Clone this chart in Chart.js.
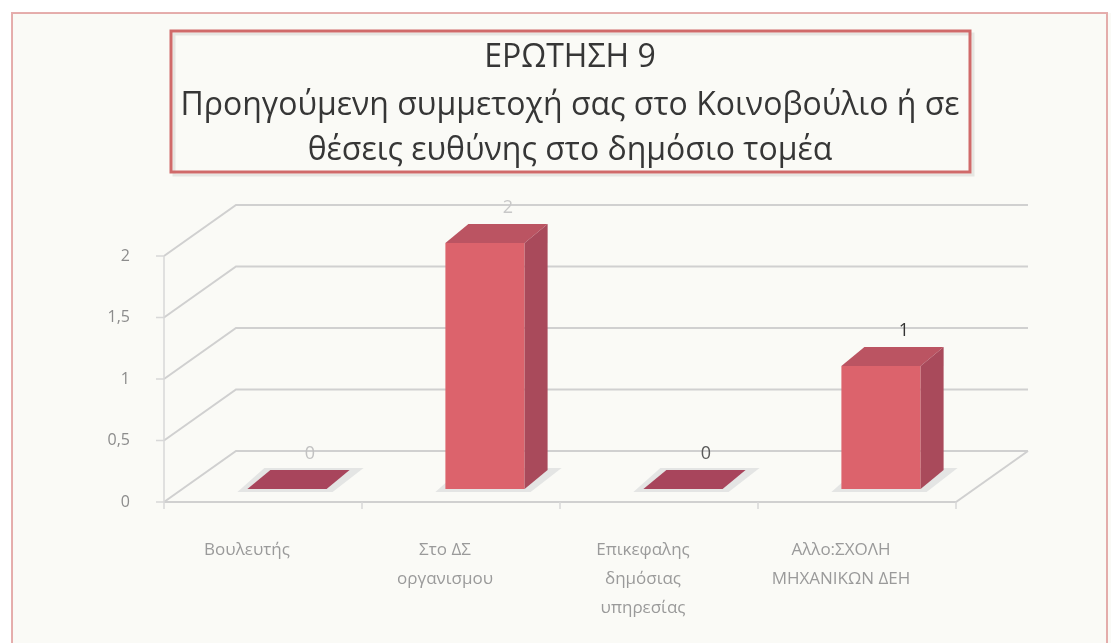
<!DOCTYPE html>
<html>
<head>
<meta charset="utf-8">
<script src="https://cdn.jsdelivr.net/npm/chart.js@4"></script>
<style>
  html, body { margin: 0; padding: 0; background: #fff; }
</style>
</head>
<body>
<canvas id="myChart" width="1111" height="643"></canvas>
<script>
const titleLines = ['ΕΡΩΤΗΣΗ 9', 'Προηγούμενη συμμετοχή σας στο Κοινοβούλιο ή σε', 'θέσεις ευθύνης στο δημόσιο τομέα'];
const categories = [['Βουλευτής'], ['Στο ΔΣ', 'οργανισμου'], ['Επικεφαλης', 'δημόσιας', 'υπηρεσίας'], ['Αλλο:ΣΧΟΛΗ', 'ΜΗΧΑΝΙΚΩΝ ΔΕΗ']];
const values = [0, 2, 0, 1];
const yTickLabels = ['0', '0,5', '1', '1,5', '2'];
const valueLabelColors = ['#c2c2c2', '#c8c8c8', '#5a5a5a', '#333333'];

// 3d offsets relative to the bar plane
const FRONT = { dx: -24, dy: 13 };
const BACK = { dx: 48, dy: -38 };
const DEPTH = { dx: 23, dy: -19 };

const scene = {
  id: 'scene',
  beforeDraw(chart) {
    const { ctx, chartArea: a, scales: { y } } = chart;
    ctx.save();
    ctx.fillStyle = '#ffffff';
    ctx.fillRect(0, 0, chart.width, chart.height);
    ctx.fillStyle = '#fafaf6';
    ctx.fillRect(12, 13, chart.width - 12, chart.height - 13);
    ctx.strokeStyle = 'rgba(214,120,120,0.6)';
    ctx.lineWidth = 2;
    ctx.strokeRect(12, 13, chart.width - 16, chart.height - 6);

    // title box
    ctx.strokeStyle = 'rgba(0,0,0,0.08)';
    ctx.lineWidth = 3;
    ctx.strokeRect(174, 34, 799, 141);
    ctx.strokeStyle = '#d06a6a';
    ctx.strokeRect(171, 31, 799, 141);
    ctx.fillStyle = '#363636';
    ctx.font = '32px "Open Sans"';
    ctx.textAlign = 'center';
    ctx.textBaseline = 'middle';
    const ys = [58, 106, 151];
    titleLines.forEach((t, i) => ctx.fillText(t, 570, ys[i]));

    // walls
    ctx.strokeStyle = '#d0d0d0';
    ctx.lineWidth = 2;
    y.ticks.forEach(t => {
      const py = y.getPixelForValue(t.value);
      ctx.beginPath();
      ctx.moveTo(a.left + FRONT.dx, py + FRONT.dy);
      ctx.lineTo(a.left + BACK.dx, py + BACK.dy);
      ctx.lineTo(a.right + BACK.dx, py + BACK.dy);
      ctx.stroke();
    });
    const p0 = y.getPixelForValue(0);
    const p2 = y.getPixelForValue(2);
    ctx.beginPath();
    ctx.moveTo(a.left + FRONT.dx, p0 + FRONT.dy);
    ctx.lineTo(a.right + FRONT.dx, p0 + FRONT.dy);
    ctx.lineTo(a.right + BACK.dx, p0 + BACK.dy);
    ctx.stroke();

    // front axis line and ticks
    ctx.strokeStyle = '#d8d8d8';
    ctx.lineWidth = 1.5;
    ctx.beginPath();
    ctx.moveTo(a.left + FRONT.dx, p2 + FRONT.dy);
    ctx.lineTo(a.left + FRONT.dx, p0 + FRONT.dy);
    y.ticks.forEach(t => {
      const py = y.getPixelForValue(t.value) + FRONT.dy;
      ctx.moveTo(a.left + FRONT.dx - 8, py);
      ctx.lineTo(a.left + FRONT.dx, py);
    });
    const n = categories.length;
    for (let i = 0; i <= n; i++) {
      const px = a.left + i * a.width / n + FRONT.dx;
      ctx.moveTo(px, p0 + FRONT.dy);
      ctx.lineTo(px, p0 + FRONT.dy + 7);
    }
    ctx.stroke();

    // floor shadows
    const meta = chart.getDatasetMeta(0);
    ctx.fillStyle = 'rgba(185,190,196,0.35)';
    meta.data.forEach(bar => {
      const l = bar.x - bar.width / 2, r = bar.x + bar.width / 2, b = bar.base;
      ctx.beginPath();
      ctx.moveTo(l - 10, b + 3);
      ctx.lineTo(r + 6, b + 3);
      ctx.lineTo(r + DEPTH.dx + 14, b + DEPTH.dy - 2);
      ctx.lineTo(l + DEPTH.dx - 6, b + DEPTH.dy - 2);
      ctx.closePath();
      ctx.fill();
    });
    ctx.restore();
  },
  afterDatasetsDraw(chart) {
    const { ctx } = chart;
    const meta = chart.getDatasetMeta(0);
    ctx.save();
    meta.data.forEach((bar, i) => {
      const l = bar.x - bar.width / 2, r = bar.x + bar.width / 2;
      const top = bar.y, b = bar.base;
      // top face
      ctx.fillStyle = values[i] === 0 ? '#a8455c' : '#bb5462';
      ctx.beginPath();
      ctx.moveTo(l, top);
      ctx.lineTo(r, top);
      ctx.lineTo(r + DEPTH.dx, top + DEPTH.dy);
      ctx.lineTo(l + DEPTH.dx, top + DEPTH.dy);
      ctx.closePath();
      ctx.fill();
      // side face
      if (b - top > 0) {
        ctx.fillStyle = '#a94a5b';
        ctx.beginPath();
        ctx.moveTo(r, top);
        ctx.lineTo(r + DEPTH.dx, top + DEPTH.dy);
        ctx.lineTo(r + DEPTH.dx, b + DEPTH.dy);
        ctx.lineTo(r, b);
        ctx.closePath();
        ctx.fill();
      }
      ctx.fillStyle = valueLabelColors[i];
      ctx.font = '18px "Open Sans"';
      ctx.textAlign = 'center';
      ctx.textBaseline = 'middle';
      ctx.fillText(String(values[i]), bar.x + DEPTH.dx, top - 35);
    });
    ctx.restore();
  }
};

new Chart(document.getElementById('myChart'), {
  type: 'bar',
  data: {
    labels: categories,
    datasets: [{
      data: values,
      backgroundColor: '#dc636c',
      borderWidth: 0,
      categoryPercentage: 1,
      barPercentage: 0.4
    }]
  },
  options: {
    responsive: false,
    animation: false,
    layout: { padding: { left: 108, right: 131, top: 243, bottom: 14 } },
    plugins: { legend: { display: false }, tooltip: { enabled: false }, title: { display: false } },
    scales: {
      x: {
        grid: { display: false },
        border: { display: false },
        afterFit(s) { s.height = 140; },
        ticks: {
          autoSkip: false,
          maxRotation: 0,
          padding: 39,
          labelOffset: -40,
          color: '#9a9a9a',
          font: { family: 'Open Sans', size: 17, lineHeight: 1.7 }
        }
      },
      y: {
        min: 0,
        max: 2,
        grid: { display: false },
        border: { display: false },
        afterFit(s) { s.width = 80; },
        ticks: {
          stepSize: 0.5,
          padding: 50,
          labelOffset: 13,
          color: '#8c8c8c',
          font: { family: 'Open Sans', size: 16 },
          callback: (v, i) => yTickLabels[i]
        }
      }
    }
  },
  plugins: [scene]
});
</script>
</body>
</html>
